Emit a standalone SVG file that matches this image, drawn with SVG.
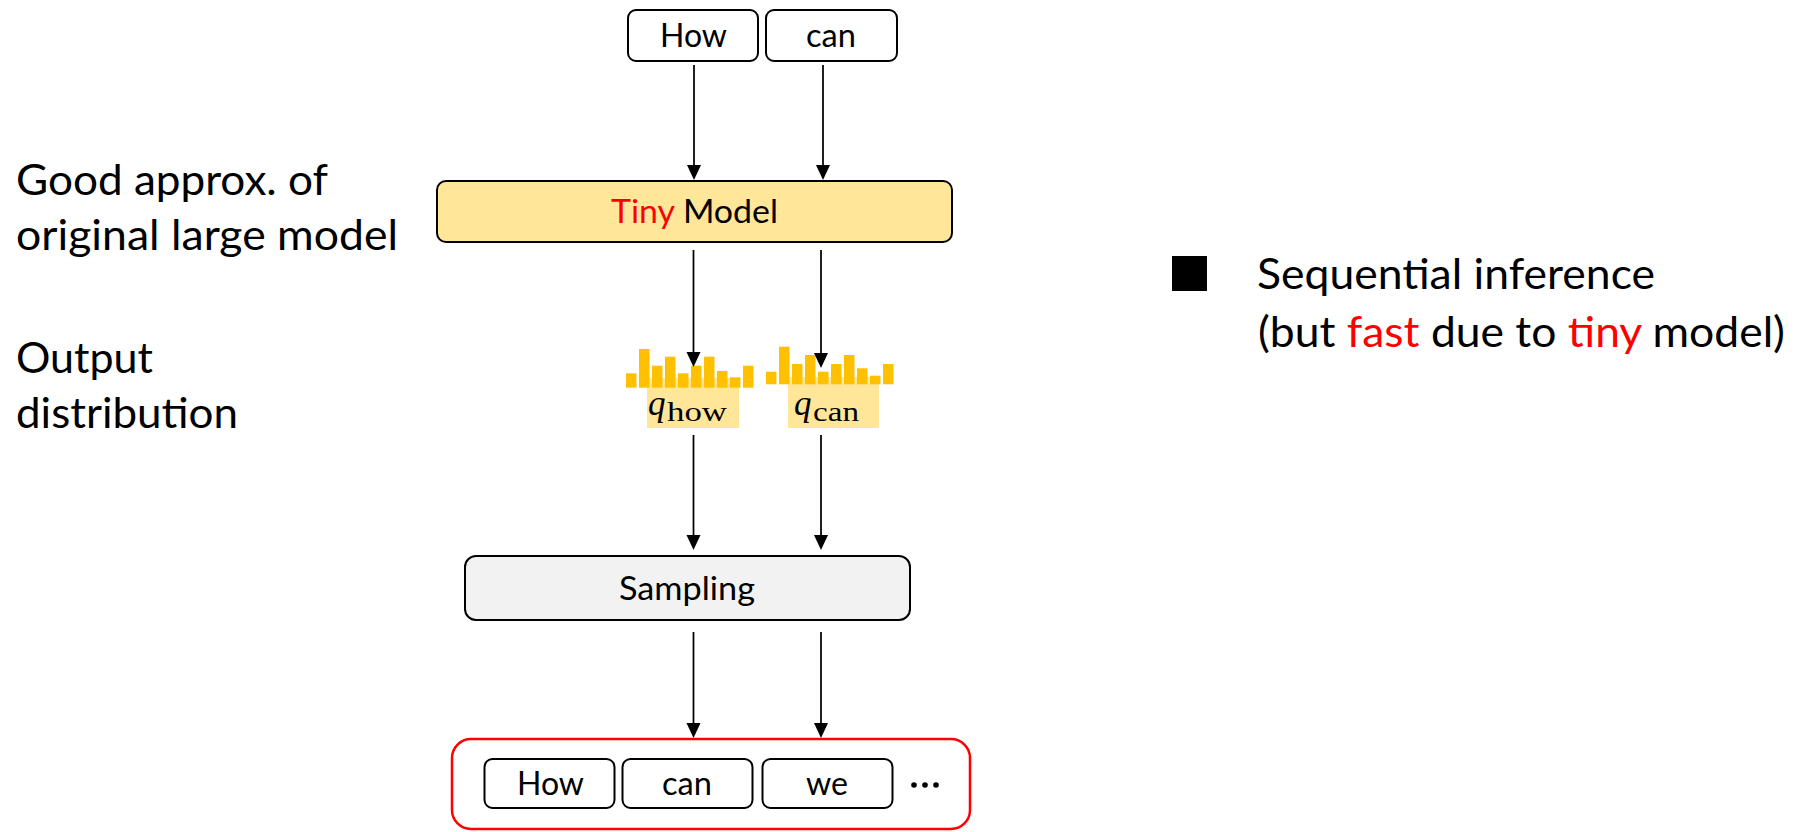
<svg xmlns="http://www.w3.org/2000/svg" width="1799" height="832" viewBox="0 0 1799 832">
  <style>
    .box { stroke: #000; stroke-width: 2; }
    .tok { fill: #fff; stroke: #000; stroke-width: 2; }
    .t { font-family: Lato, "Open Sans", "Liberation Sans", sans-serif; fill: #000; }
    .big { font-size: 43px; }
    .mid { font-size: 33px; }
    .red { fill: #ff0000; }
    .bar { fill: #ffc000; }
    .lbl { fill: #ffe699; }
    .m { font-family: "Liberation Serif", "DejaVu Serif", serif; fill: #000; }
    .edge { stroke: #000; stroke-width: 1.75; fill: none; marker-end: url(#arrow); }
  </style>
  <defs>
    <marker id="arrow" markerUnits="userSpaceOnUse" markerWidth="16" markerHeight="16" refX="7" refY="7" orient="auto">
      <path d="M0,0 L15,7 L0,14 z" fill="#000"/>
    </marker>
  </defs>
  <rect width="1799" height="832" fill="#fff"/>

  <!-- side captions -->
  <g id="caption-model">
    <text class="t big" x="16" y="195" textLength="312" lengthAdjust="spacingAndGlyphs">Good approx. of</text>
    <text class="t big" x="16" y="250" textLength="382" lengthAdjust="spacingAndGlyphs">original large model</text>
  </g>
  <g id="caption-dist">
    <text class="t big" x="16" y="373" textLength="137" lengthAdjust="spacingAndGlyphs">Output</text>
    <text class="t big" x="16" y="428" textLength="222" lengthAdjust="spacingAndGlyphs">distribution</text>
  </g>

  <!-- input tokens -->
  <g id="input-how">
    <rect class="tok" x="628" y="10" width="130" height="51" rx="8"/>
    <text class="t mid" x="660" y="47" textLength="67" lengthAdjust="spacingAndGlyphs">How</text>
  </g>
  <g id="input-can">
    <rect class="tok" x="766" y="10" width="131" height="51" rx="8"/>
    <text class="t mid" x="806" y="47" textLength="50" lengthAdjust="spacingAndGlyphs">can</text>
  </g>

  <!-- draft model -->
  <g id="tiny-model">
    <rect class="box" x="437" y="181" width="515" height="61" rx="9" fill="#ffe699"/>
    <text class="t mid" x="611" y="223" textLength="167" lengthAdjust="spacingAndGlyphs"><tspan class="red">Tiny</tspan> Model</text>
  </g>

  <!-- output distributions -->
  <g id="dist-how">
    <rect class="lbl" x="647" y="378" width="92" height="50"/>
    <rect class="bar" x="626" y="373.3" width="10.5" height="14.4"/>
    <rect class="bar" x="639" y="349" width="10.5" height="38.7"/>
    <rect class="bar" x="652" y="365.7" width="10.5" height="22"/>
    <rect class="bar" x="665" y="356.7" width="10.5" height="31"/>
    <rect class="bar" x="678" y="373.3" width="10.5" height="14.4"/>
    <rect class="bar" x="691" y="365.7" width="10.5" height="22"/>
    <rect class="bar" x="704" y="356.7" width="10.5" height="31"/>
    <rect class="bar" x="717" y="371" width="10.5" height="16.7"/>
    <rect class="bar" x="730" y="377.3" width="10.5" height="10.4"/>
    <rect class="bar" x="743" y="365.7" width="10.5" height="22"/>
    <text class="m" x="648" y="415" font-size="35" font-style="italic">q</text>
    <text class="m" x="667" y="421" font-size="27" textLength="60" lengthAdjust="spacingAndGlyphs">how</text>
  </g>
  <g id="dist-can">
    <rect class="lbl" x="788" y="377" width="91" height="51"/>
    <rect class="bar" x="766" y="371.7" width="10.5" height="12.6"/>
    <rect class="bar" x="779" y="346.7" width="10.5" height="37.6"/>
    <rect class="bar" x="792" y="364" width="10.5" height="20.3"/>
    <rect class="bar" x="805" y="355" width="10.5" height="29.3"/>
    <rect class="bar" x="818" y="371.7" width="10.5" height="12.6"/>
    <rect class="bar" x="831" y="364" width="10.5" height="20.3"/>
    <rect class="bar" x="844" y="355" width="10.5" height="29.3"/>
    <rect class="bar" x="857" y="368.3" width="10.5" height="16"/>
    <rect class="bar" x="870" y="375.7" width="10.5" height="8.6"/>
    <rect class="bar" x="883" y="364" width="10.5" height="20.3"/>
    <text class="m" x="794" y="415" font-size="35" font-style="italic">q</text>
    <text class="m" x="813" y="421" font-size="27" textLength="46" lengthAdjust="spacingAndGlyphs">can</text>
  </g>

  <!-- sampler -->
  <g id="sampling">
    <rect class="box" x="465" y="556" width="445" height="64" rx="11" fill="#f2f2f2"/>
    <text class="t mid" x="619" y="600" textLength="136" lengthAdjust="spacingAndGlyphs">Sampling</text>
  </g>

  <!-- generated sequence -->
  <g id="output-seq">
    <rect x="452" y="739" width="518" height="90" rx="19" fill="none" stroke="#ff0000" stroke-width="2.5"/>
    <rect class="tok" x="484.5" y="759" width="130" height="49" rx="8"/>
    <text class="t mid" x="517" y="795" textLength="67" lengthAdjust="spacingAndGlyphs">How</text>
    <rect class="tok" x="622.5" y="759" width="130" height="49" rx="8"/>
    <text class="t mid" x="662" y="795" textLength="50" lengthAdjust="spacingAndGlyphs">can</text>
    <rect class="tok" x="762.5" y="759" width="130" height="49" rx="8"/>
    <text class="t mid" x="806" y="795" textLength="42" lengthAdjust="spacingAndGlyphs">we</text>
    <circle cx="914" cy="785" r="2.8" fill="#000"/>
    <circle cx="925" cy="785" r="2.8" fill="#000"/>
    <circle cx="936" cy="785" r="2.8" fill="#000"/>
  </g>

  <!-- connectors -->
  <g id="connectors">
    <line class="edge" x1="694" y1="65" x2="694" y2="172"/>
    <line class="edge" x1="823" y1="65" x2="823" y2="172"/>
    <line class="edge" x1="693.5" y1="250" x2="693.5" y2="359"/>
    <line class="edge" x1="821" y1="250" x2="821" y2="360"/>
    <line class="edge" x1="693.5" y1="435" x2="693.5" y2="542"/>
    <line class="edge" x1="821" y1="435" x2="821" y2="542"/>
    <line class="edge" x1="693.5" y1="632" x2="693.5" y2="730"/>
    <line class="edge" x1="821" y1="632" x2="821" y2="730"/>
  </g>

  <!-- key point -->
  <g id="note">
    <rect x="1172" y="256" width="35" height="35" fill="#000"/>
    <text class="t big" x="1257" y="289" textLength="398" lengthAdjust="spacingAndGlyphs">Sequential inference</text>
    <text class="t big" x="1258" y="347" textLength="527" lengthAdjust="spacingAndGlyphs">(but <tspan class="red">fast</tspan> due to <tspan class="red">tiny</tspan> model)</text>
  </g>
</svg>
